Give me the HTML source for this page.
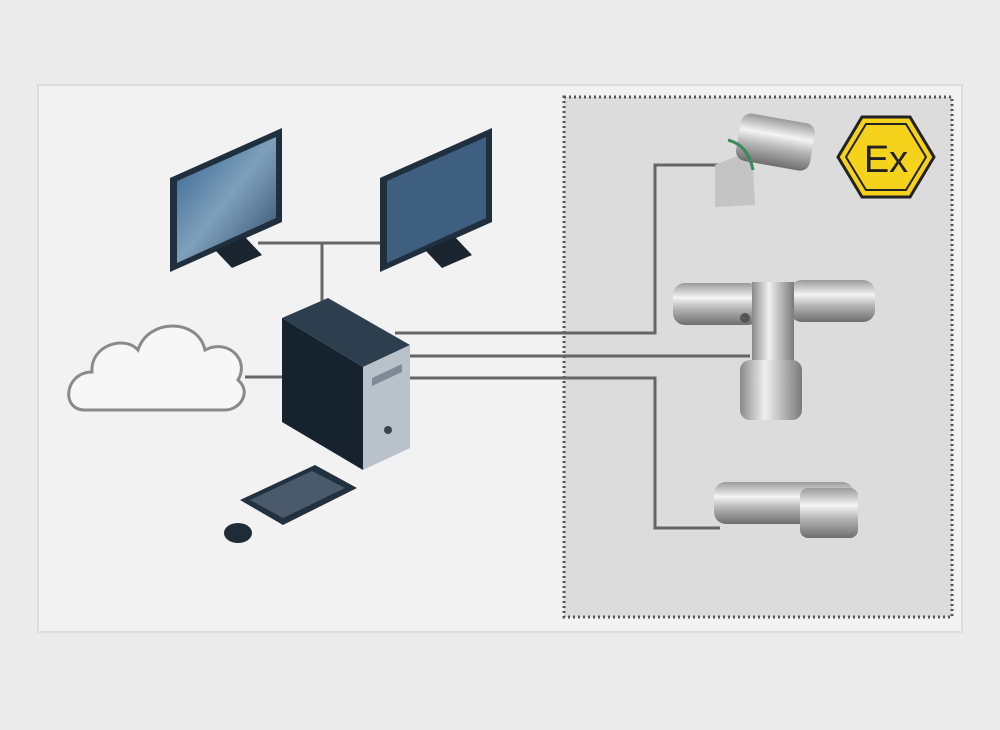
<!DOCTYPE html>
<html><head><meta charset="utf-8"><style>
html,body{margin:0;padding:0;background:#ebebeb;}
svg{display:block;}
</style></head><body>
<svg width="1000" height="730" viewBox="0 0 1000 730" xmlns="http://www.w3.org/2000/svg">
<defs>
<linearGradient id="metal" x1="0" y1="0" x2="0" y2="1">
<stop offset="0" stop-color="#9a9a9a"/><stop offset="0.35" stop-color="#f4f4f4"/><stop offset="0.6" stop-color="#b8b8b8"/><stop offset="1" stop-color="#6e6e6e"/>
</linearGradient>
<linearGradient id="metalv" x1="0" y1="0" x2="1" y2="0">
<stop offset="0" stop-color="#8a8a8a"/><stop offset="0.4" stop-color="#f0f0f0"/><stop offset="1" stop-color="#7a7a7a"/>
</linearGradient>
<linearGradient id="scr" x1="0" y1="0" x2="1" y2="1">
<stop offset="0" stop-color="#2f5f8e"/><stop offset="0.5" stop-color="#7fa0bb"/><stop offset="1" stop-color="#2d4a66"/>
</linearGradient>
</defs>
<rect width="1000" height="730" fill="#ebebeb"/>
<rect x="38" y="85" width="924" height="547" fill="#f2f2f2" stroke="#dedede" stroke-width="2"/>
<rect x="564" y="97" width="388" height="520" fill="#dcdcdc" stroke="#555" stroke-width="3" stroke-dasharray="2,3"/>

<g stroke="#666" stroke-width="3" fill="none">
<path d="M258 243 H400"/><path d="M322 243 V305"/>
<path d="M245 377 H285"/>
<path d="M395 333 H655 V165 H720"/>
<path d="M410 356 H750"/>
<path d="M410 378 H655 V528 H720"/>
</g>

<path d="M85 410 C60 410 65 372 92 372 C90 345 125 335 138 350 C148 318 198 318 205 350 C228 338 250 360 238 380 C252 392 240 410 225 410 Z" fill="#f7f7f7" stroke="#8a8a8a" stroke-width="3"/>

<polygon points="170,178 282,128 282,222 170,272" fill="#1f2f3e"/>
<polygon points="177,181 276,137 276,218 177,263" fill="url(#scr)"/>
<polygon points="215,250 245,237 262,255 232,268" fill="#1a2530"/>
<polygon points="380,178 492,128 492,222 380,272" fill="#1f2f3e"/>
<polygon points="387,181 486,137 486,218 387,263" fill="#3f5f80"/>
<polygon points="425,250 455,237 472,255 442,268" fill="#1a2530"/>

<polygon points="282,318 328,298 410,345 363,367" fill="#2d3e4e"/>
<polygon points="282,318 363,367 363,470 282,422" fill="#16232f"/>
<polygon points="363,367 410,345 410,448 363,470" fill="#b9c2cb"/>
<polygon points="372,378 402,364 402,372 372,386" fill="#7f8a95"/>
<circle cx="388" cy="430" r="4" fill="#3a4550"/>

<polygon points="240,500 315,465 357,488 283,525" fill="#22313f"/>
<polygon points="250,500 312,471 345,488 283,518" fill="#4a5a6a"/>
<ellipse cx="238" cy="533" rx="14" ry="10" fill="#1f2b36"/>

<polygon points="715,165 752,150 755,205 715,207" fill="#c4c4c4"/>
<rect x="738" y="118" width="75" height="48" rx="10" fill="url(#metal)" transform="rotate(10 775 142)"/>
<path d="M728 140 q20 5 25 30" stroke="#3a8a5a" stroke-width="3" fill="none"/>

<rect x="673" y="283" width="87" height="42" rx="12" fill="url(#metal)"/>
<rect x="790" y="280" width="85" height="42" rx="12" fill="url(#metal)"/>
<rect x="752" y="282" width="42" height="80" fill="url(#metalv)"/>
<rect x="740" y="360" width="62" height="60" rx="10" fill="url(#metalv)"/>
<circle cx="745" cy="318" r="5" fill="#555"/>

<rect x="714" y="482" width="140" height="42" rx="12" fill="url(#metal)"/>
<rect x="800" y="488" width="58" height="50" rx="8" fill="url(#metal)"/>

<polygon points="838,157 862,117 910,117 934,157 910,197 862,197" fill="#f5d21c" stroke="#222" stroke-width="3"/>
<polygon points="846,157 866,124 906,124 926,157 906,190 866,190" fill="none" stroke="#222" stroke-width="2"/>
<text x="886" y="172" font-family="Liberation Sans, sans-serif" font-size="38" text-anchor="middle" fill="#222">Ex</text>
</svg>
</body></html>
